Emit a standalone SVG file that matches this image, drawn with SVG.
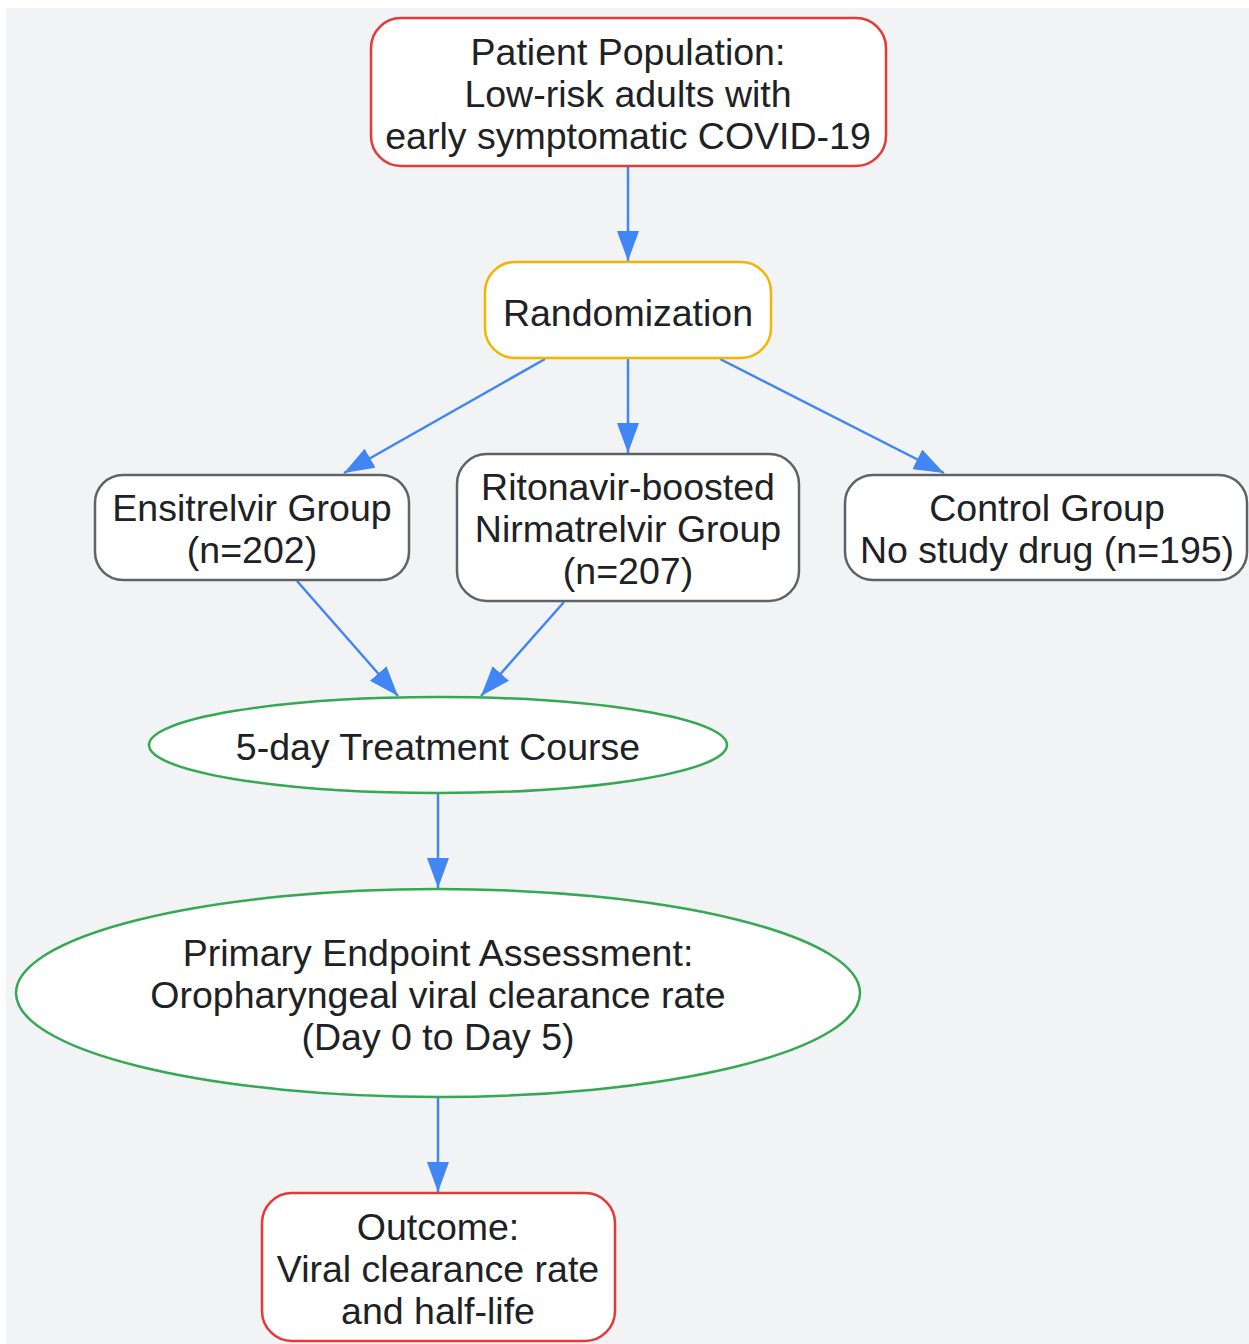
<svg xmlns="http://www.w3.org/2000/svg" width="1249" height="1344" viewBox="0 0 1249 1344">
<defs>
<style>
.t{font-family:"Liberation Sans",Arial,sans-serif;font-size:37.5px;fill:#202124;text-anchor:middle}
.red{fill:#fff;stroke:#e53935;stroke-width:2.5}
.gold{fill:#fff;stroke:#f4b400;stroke-width:2.5}
.gray{fill:#fff;stroke:#5f6368;stroke-width:2.5}
.green{fill:#fff;stroke:#34a853;stroke-width:2.5}
.e{stroke:#4285f4;stroke-width:2.5;fill:none;marker-end:url(#ah)}
</style>
<marker id="ah" markerUnits="userSpaceOnUse" markerWidth="32" markerHeight="22" refX="30" refY="11" orient="auto" viewBox="0 0 32 22">
<path d="M0,0 L30,11 L0,22 z" fill="#4285f4"/>
</marker>
</defs>
<rect x="0" y="0" width="1249" height="1344" fill="#ffffff"/>
<rect x="6" y="8" width="1243" height="1336" fill="#f1f3f5"/>
<g id="connectors">
<line class="e" x1="628" y1="166" x2="628" y2="261"/>
<line class="e" x1="545" y1="359" x2="344" y2="473"/>
<line class="e" x1="628" y1="358" x2="628" y2="453"/>
<line class="e" x1="720" y1="359" x2="944" y2="473"/>
<line class="e" x1="297" y1="581" x2="398" y2="696"/>
<line class="e" x1="564" y1="602" x2="481" y2="696"/>
<line class="e" x1="438" y1="794" x2="438" y2="888"/>
<line class="e" x1="438" y1="1098" x2="438" y2="1192"/>
</g>
<g id="patient">
<rect class="red" x="371" y="18" width="515" height="148" rx="30"/>
<text class="t" x="628" y="65">Patient Population:</text>
<text class="t" x="628" y="107">Low-risk adults with</text>
<text class="t" x="628" y="149">early symptomatic COVID-19</text>
</g>
<g id="randomization">
<rect class="gold" x="485" y="262" width="286" height="96" rx="30"/>
<text class="t" x="628" y="326">Randomization</text>
</g>
<g id="ensitrelvir">
<rect class="gray" x="95" y="475" width="314" height="105" rx="28"/>
<text class="t" x="252" y="521">Ensitrelvir Group</text>
<text class="t" x="252" y="563">(n=202)</text>
</g>
<g id="nirmatrelvir">
<rect class="gray" x="457" y="454" width="342" height="147" rx="30"/>
<text class="t" x="628" y="500">Ritonavir-boosted</text>
<text class="t" x="628" y="542">Nirmatrelvir Group</text>
<text class="t" x="628" y="584">(n=207)</text>
</g>
<g id="control">
<rect class="gray" x="845" y="475" width="402" height="105" rx="28"/>
<text class="t" x="1047" y="521">Control Group</text>
<text class="t" x="1047" y="563">No study drug (n=195)</text>
</g>
<g id="treatment">
<ellipse class="green" cx="438" cy="745" rx="289" ry="48"/>
<text class="t" x="438" y="760">5-day Treatment Course</text>
</g>
<g id="endpoint">
<ellipse class="green" cx="438" cy="993" rx="422" ry="104"/>
<text class="t" x="438" y="966">Primary Endpoint Assessment:</text>
<text class="t" x="438" y="1008">Oropharyngeal viral clearance rate</text>
<text class="t" x="438" y="1050">(Day 0 to Day 5)</text>
</g>
<g id="outcome">
<rect class="red" x="262" y="1193" width="353" height="148" rx="30"/>
<text class="t" x="438" y="1240">Outcome:</text>
<text class="t" x="438" y="1282">Viral clearance rate</text>
<text class="t" x="438" y="1324">and half-life</text>
</g>
</svg>
